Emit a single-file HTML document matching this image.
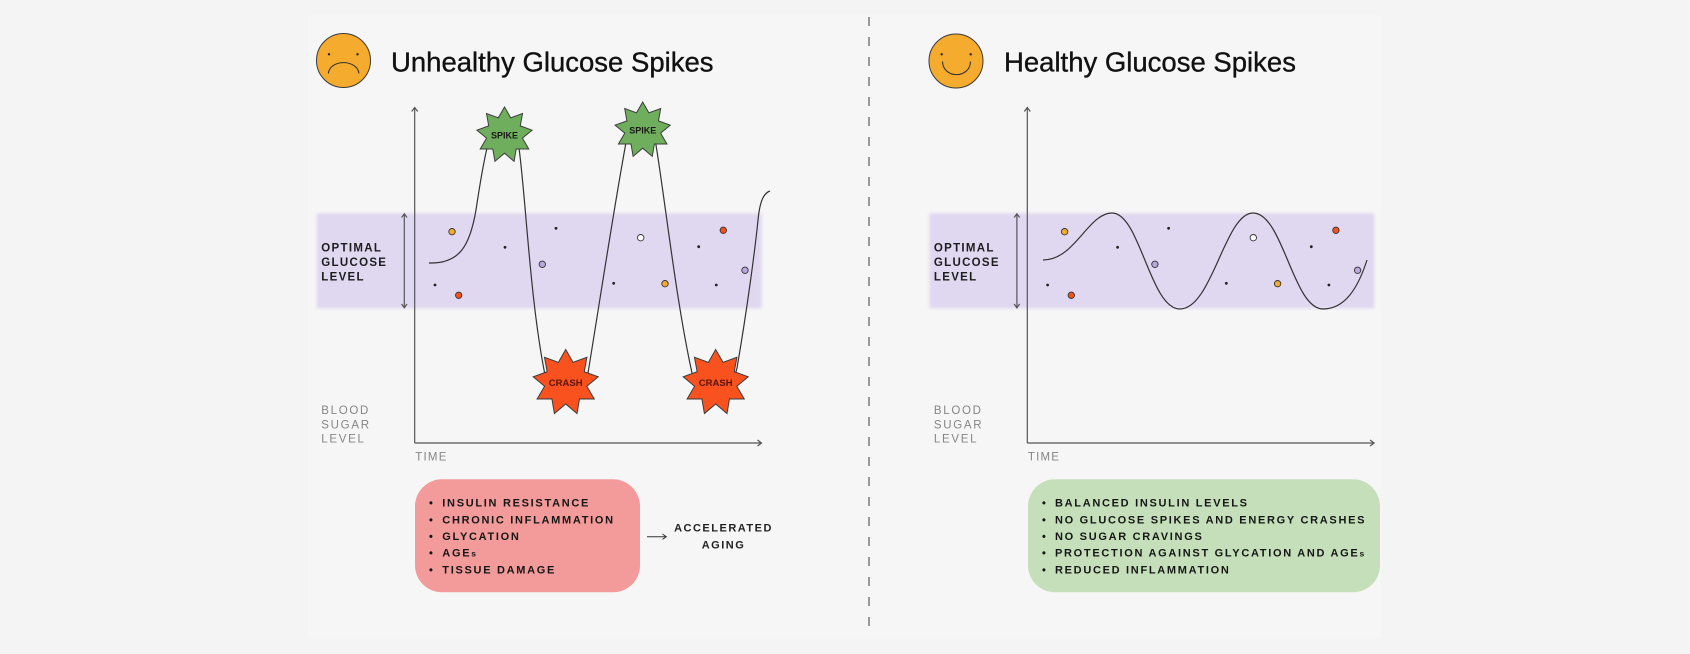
<!DOCTYPE html>
<html>
<head>
<meta charset="utf-8">
<style>
html,body{margin:0;padding:0;background:#f4f4f4;}
svg{display:block;}
text{font-family:"Liberation Sans",Arial,sans-serif;}
.title{font-size:27.5px;fill:#111;stroke:#111;stroke-width:0.35px;}
.lab{font-size:11.5px;font-weight:bold;letter-spacing:1.3px;fill:#1d1d1d;}
.gray{font-size:11.5px;letter-spacing:1.7px;fill:#858585;}
.bul{font-size:11px;font-weight:bold;letter-spacing:1.7px;fill:#161616;}
.acc{font-size:11px;font-weight:bold;letter-spacing:1.5px;fill:#222;}
.ax{stroke:#555;stroke-width:1.2;fill:none;}
.cv{stroke:#333;stroke-width:1.2;fill:none;}
</style>
</head>
<body>
<svg width="1690" height="654" viewBox="0 0 1690 654" xmlns="http://www.w3.org/2000/svg">
<defs>
  <filter id="bl" x="-5%" y="-10%" width="110%" height="120%"><feGaussianBlur stdDeviation="1.6"/></filter>
  <g id="chart">
    <rect x="316.7" y="213.3" width="445" height="95" fill="#e0d7f0" filter="url(#bl)"/>
    <line class="ax" x1="414.7" y1="108" x2="414.7" y2="443"/>
    <line class="ax" x1="414.7" y1="443" x2="761" y2="443"/>
    <path class="ax" d="M411.7,111.5 L414.7,107.5 L417.7,111.5"/>
    <path class="ax" d="M757.5,440 L761.5,443 L757.5,446"/>
    <line class="ax" x1="404.3" y1="214" x2="404.3" y2="307.5"/>
    <path class="ax" d="M401.6,217.5 L404.3,213.8 L407,217.5"/>
    <path class="ax" d="M401.6,304 L404.3,307.8 L407,304"/>
    <text class="lab" x="321.3" y="251.7">OPTIMAL</text>
    <text class="lab" x="321.3" y="266">GLUCOSE</text>
    <text class="lab" x="321.3" y="280.3">LEVEL</text>
    <text class="gray" x="321.3" y="414">BLOOD</text>
    <text class="gray" x="321.3" y="428.3">SUGAR</text>
    <text class="gray" x="321.3" y="442.7">LEVEL</text>
    <text class="gray" x="415.3" y="460.3" style="letter-spacing:1.2px">TIME</text>
    <g fill="#222">
      <circle cx="505" cy="247.3" r="1.4"/>
      <circle cx="556" cy="228.3" r="1.4"/>
      <circle cx="435" cy="285" r="1.4"/>
      <circle cx="613.7" cy="283.3" r="1.4"/>
      <circle cx="698.7" cy="246.7" r="1.4"/>
      <circle cx="716.3" cy="285" r="1.4"/>
    </g>
    <g stroke="#333" stroke-width="0.9">
      <circle cx="452" cy="231.7" r="3.2" fill="#f5ab2d"/>
      <circle cx="542.3" cy="264.3" r="3.2" fill="#b9a6e0"/>
      <circle cx="458.7" cy="295.3" r="3.2" fill="#f4511e"/>
      <circle cx="640.7" cy="237.7" r="3.2" fill="#ffffff"/>
      <circle cx="665" cy="283.7" r="3.2" fill="#f5ab2d"/>
      <circle cx="723.3" cy="230.3" r="3.2" fill="#f4511e"/>
      <circle cx="745" cy="270.3" r="3.2" fill="#b9a6e0"/>
    </g>
  </g>
</defs>

<rect x="308" y="15" width="1073" height="623" fill="#f6f6f6"/>

<line x1="869" y1="17" x2="869" y2="634" stroke="#7a7a7a" stroke-width="1.5" stroke-dasharray="9 11"/>

<!-- ========== LEFT ========== -->
<circle cx="343.5" cy="60.5" r="27" fill="#f5ab2d" stroke="#3a3a3a" stroke-width="1"/>
<circle cx="329" cy="54.3" r="1.2" fill="#222"/>
<circle cx="357.5" cy="54.3" r="1.2" fill="#222"/>
<path d="M328.3,73.5 C330,59 357,59 359,73.5" fill="none" stroke="#333" stroke-width="1.1"/>
<text class="title" x="391" y="71.7">Unhealthy Glucose Spikes</text>

<use href="#chart"/>

<path class="cv" d="M429,263 C460,264 470,245 476,210 C479,190 483,165 487,148 C492,105 514,105 519,148 C526,200 530,300 545,375 C550,400 582,400 588,373 C600,300 612,220 625,148 C630,110 652,110 656,145 C665,200 676,300 692,373 C697,400 730,400 737,368 C747,310 755,250 758,220 C760,200 764,193 770,191"/>

<polygon transform="translate(504.5,135) scale(28)" vector-effect="non-scaling-stroke" fill="#6fae5c" stroke="#3d3d3d" stroke-width="1" points="0,-1 0.222,-0.611 0.643,-0.766 0.563,-0.325 0.985,-0.174 0.640,0.113 0.866,0.5 0.418,0.498 0.342,0.94 0,0.65 -0.342,0.94 -0.418,0.498 -0.866,0.5 -0.640,0.113 -0.985,-0.174 -0.563,-0.325 -0.643,-0.766 -0.222,-0.611"/>
<polygon transform="translate(642.7,130) scale(28)" vector-effect="non-scaling-stroke" fill="#6fae5c" stroke="#3d3d3d" stroke-width="1" points="0,-1 0.222,-0.611 0.643,-0.766 0.563,-0.325 0.985,-0.174 0.640,0.113 0.866,0.5 0.418,0.498 0.342,0.94 0,0.65 -0.342,0.94 -0.418,0.498 -0.866,0.5 -0.640,0.113 -0.985,-0.174 -0.563,-0.325 -0.643,-0.766 -0.222,-0.611"/>
<polygon transform="translate(565.7,382.5) scale(33)" vector-effect="non-scaling-stroke" fill="#f9521f" stroke="#3d3d3d" stroke-width="1" points="0,-1 0.222,-0.611 0.643,-0.766 0.563,-0.325 0.985,-0.174 0.640,0.113 0.866,0.5 0.418,0.498 0.342,0.94 0,0.65 -0.342,0.94 -0.418,0.498 -0.866,0.5 -0.640,0.113 -0.985,-0.174 -0.563,-0.325 -0.643,-0.766 -0.222,-0.611"/>
<polygon transform="translate(715.7,382.5) scale(33)" vector-effect="non-scaling-stroke" fill="#f9521f" stroke="#3d3d3d" stroke-width="1" points="0,-1 0.222,-0.611 0.643,-0.766 0.563,-0.325 0.985,-0.174 0.640,0.113 0.866,0.5 0.418,0.498 0.342,0.94 0,0.65 -0.342,0.94 -0.418,0.498 -0.866,0.5 -0.640,0.113 -0.985,-0.174 -0.563,-0.325 -0.643,-0.766 -0.222,-0.611"/>
<text x="504.5" y="138.5" text-anchor="middle" style="font-size:9px;font-weight:bold;fill:#1a1a1a">SPIKE</text>
<text x="642.7" y="133.5" text-anchor="middle" style="font-size:9px;font-weight:bold;fill:#1a1a1a">SPIKE</text>
<text x="565.7" y="386" text-anchor="middle" style="font-size:9.5px;font-weight:bold;fill:#5a1408">CRASH</text>
<text x="715.7" y="386" text-anchor="middle" style="font-size:9.5px;font-weight:bold;fill:#5a1408">CRASH</text>

<rect x="415" y="479.3" width="225" height="113" rx="27" ry="27" fill="#f39a9a"/>
<g class="bul">
  <text x="429" y="506.7">•</text><text class="bul" x="442.3" y="506.7">INSULIN RESISTANCE</text>
  <text x="429" y="523.3">•</text><text class="bul" x="442.3" y="523.3">CHRONIC INFLAMMATION</text>
  <text x="429" y="540">•</text><text class="bul" x="442.3" y="540">GLYCATION</text>
  <text x="429" y="556.7">•</text><text class="bul" x="442.3" y="556.7">AGE<tspan style="font-size:8.5px">s</tspan></text>
  <text x="429" y="573.3">•</text><text class="bul" x="442.3" y="573.3">TISSUE DAMAGE</text>
</g>
<line x1="647" y1="536.7" x2="666" y2="536.7" stroke="#333" stroke-width="1"/>
<path d="M662.5,534 L666.3,536.7 L662.5,539.4" fill="none" stroke="#333" stroke-width="1"/>
<text class="acc" x="723.5" y="531.7" text-anchor="middle">ACCELERATED</text>
<text class="acc" x="723.5" y="548.3" text-anchor="middle">AGING</text>

<!-- ========== RIGHT ========== -->
<circle cx="956" cy="61" r="27" fill="#f5ab2d" stroke="#3a3a3a" stroke-width="1"/>
<circle cx="941.7" cy="54.3" r="1.2" fill="#222"/>
<circle cx="970.7" cy="54.3" r="1.2" fill="#222"/>
<path d="M942.5,61.5 C943,79 970,79 970.5,61.5" fill="none" stroke="#333" stroke-width="1.1"/>
<text class="title" x="1004" y="71.7">Healthy Glucose Spikes</text>

<use href="#chart" transform="translate(612.6,0)"/>

<path class="cv" d="M1043,260 C1075,260 1088,213 1112,213 C1140,213 1150,309 1180,309 C1212,309 1225,213 1253,213 C1283,213 1293,309 1323,309 C1345,309 1358,288 1367,260"/>

<rect x="1028" y="479.3" width="352" height="113" rx="27" ry="27" fill="#c5dfba"/>
<g class="bul">
  <text x="1042" y="506.7">•</text><text class="bul" x="1055" y="506.7">BALANCED INSULIN LEVELS</text>
  <text x="1042" y="523.3">•</text><text class="bul" x="1055" y="523.3">NO GLUCOSE SPIKES AND ENERGY CRASHES</text>
  <text x="1042" y="540">•</text><text class="bul" x="1055" y="540">NO SUGAR CRAVINGS</text>
  <text x="1042" y="556.7">•</text><text class="bul" x="1055" y="556.7">PROTECTION AGAINST GLYCATION AND AGE<tspan style="font-size:8.5px">s</tspan></text>
  <text x="1042" y="573.3">•</text><text class="bul" x="1055" y="573.3">REDUCED INFLAMMATION</text>
</g>
</svg>
</body>
</html>
